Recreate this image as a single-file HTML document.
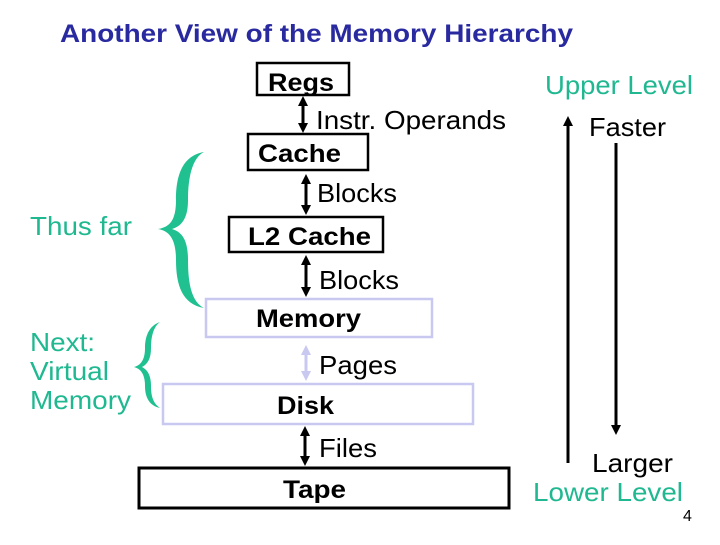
<!DOCTYPE html>
<html><head><meta charset="utf-8"><style>
html,body{margin:0;padding:0;background:#fff;}
body{width:720px;height:540px;overflow:hidden;}
svg text{font-family:"Liberation Sans",Arial,sans-serif;}
</style></head><body>
<svg width="720" height="540" viewBox="0 0 720 540" xmlns="http://www.w3.org/2000/svg">
<defs>
<marker id="ab" markerWidth="10" markerHeight="10" refX="2" refY="5" orient="auto-start-reverse" markerUnits="userSpaceOnUse"><path d="M0,0 L10,5 L0,10 Z" fill="#000"/></marker>
<marker id="al" markerWidth="10" markerHeight="10" refX="2" refY="5" orient="auto-start-reverse" markerUnits="userSpaceOnUse"><path d="M0,0 L10,5 L0,10 Z" fill="#c8c8f0"/></marker>
</defs>
<text x="60" y="42" font-size="25" font-weight="bold" fill="#2a2aa0" textLength="513" lengthAdjust="spacingAndGlyphs">Another View of the Memory Hierarchy</text>

<rect x="257" y="63" width="92" height="32" fill="none" stroke="#000" stroke-width="2.5"/>
<text x="268" y="91" font-size="25" font-weight="bold" textLength="66" lengthAdjust="spacingAndGlyphs">Regs</text>
<rect x="248" y="134" width="120" height="36" fill="none" stroke="#000" stroke-width="2.5"/>
<text x="258" y="162" font-size="25" font-weight="bold" textLength="83" lengthAdjust="spacingAndGlyphs">Cache</text>
<rect x="229" y="217" width="154" height="35" fill="none" stroke="#000" stroke-width="2.5"/>
<text x="248" y="245" font-size="25" font-weight="bold" textLength="123" lengthAdjust="spacingAndGlyphs">L2 Cache</text>
<rect x="206" y="299" width="226" height="38" fill="none" stroke="#c8c8f0" stroke-width="2.5"/>
<text x="256" y="327" font-size="25" font-weight="bold" textLength="105" lengthAdjust="spacingAndGlyphs">Memory</text>
<rect x="163" y="384" width="310" height="40" fill="none" stroke="#c8c8f0" stroke-width="2.5"/>
<text x="277" y="414" font-size="25" font-weight="bold" textLength="57" lengthAdjust="spacingAndGlyphs">Disk</text>
<rect x="139" y="468" width="370" height="40" fill="none" stroke="#000" stroke-width="3"/>
<text x="283" y="498" font-size="25" font-weight="bold" textLength="63" lengthAdjust="spacingAndGlyphs">Tape</text>

<line x1="303" y1="104" x2="303" y2="125" stroke="#000" stroke-width="3" marker-start="url(#ab)" marker-end="url(#ab)"/>
<line x1="306" y1="182" x2="306" y2="207" stroke="#000" stroke-width="3" marker-start="url(#ab)" marker-end="url(#ab)"/>
<line x1="306" y1="263" x2="306" y2="289" stroke="#000" stroke-width="3" marker-start="url(#ab)" marker-end="url(#ab)"/>
<line x1="306" y1="353" x2="306" y2="373" stroke="#c8c8f0" stroke-width="3" marker-start="url(#al)" marker-end="url(#al)"/>
<line x1="305" y1="434" x2="305" y2="458" stroke="#000" stroke-width="3" marker-start="url(#ab)" marker-end="url(#ab)"/>

<text x="316" y="129" font-size="26" textLength="190" lengthAdjust="spacingAndGlyphs">Instr. Operands</text>
<text x="317" y="202" font-size="26" textLength="80" lengthAdjust="spacingAndGlyphs">Blocks</text>
<text x="319" y="289" font-size="26" textLength="80" lengthAdjust="spacingAndGlyphs">Blocks</text>
<text x="319" y="374" font-size="26" textLength="78" lengthAdjust="spacingAndGlyphs">Pages</text>
<text x="319" y="457" font-size="26" textLength="58" lengthAdjust="spacingAndGlyphs">Files</text>

<path d="M204,152 C180,156 176,180 176,200 C176,220 170,227 158,229 C170,231 176,240 176,260 C176,285 182,304 204,308 C192,302 188,285 188,260 C188,240 182,232 172,229 C182,226 188,218 188,200 C188,178 192,158 204,152 Z" fill="#20c090"/>
<path d="M160,322 C148,326 145,338 145,348 C145,358 142,365 134,367 C142,369 145,376 145,386 C145,398 150,406 160,408 C153,403 151,396 151,386 C151,376 148,370 142,367 C148,364 151,358 151,348 C151,338 153,327 160,322 Z" fill="#20c090"/>

<text x="30" y="235" font-size="26" fill="#20b890" textLength="102" lengthAdjust="spacingAndGlyphs">Thus far</text>
<text x="30" y="351" font-size="26" fill="#20b890" textLength="65" lengthAdjust="spacingAndGlyphs">Next:</text>
<text x="30" y="380" font-size="26" fill="#20b890" textLength="79" lengthAdjust="spacingAndGlyphs">Virtual</text>
<text x="30" y="409" font-size="26" fill="#20b890" textLength="101" lengthAdjust="spacingAndGlyphs">Memory</text>

<text x="545" y="94" font-size="26" fill="#20b890" textLength="148" lengthAdjust="spacingAndGlyphs">Upper Level</text>
<text x="589" y="136" font-size="26" textLength="77" lengthAdjust="spacingAndGlyphs">Faster</text>
<text x="592" y="472" font-size="26" textLength="81" lengthAdjust="spacingAndGlyphs">Larger</text>
<text x="533" y="501" font-size="26" fill="#20b890" textLength="150" lengthAdjust="spacingAndGlyphs">Lower Level</text>
<text x="683" y="521" font-size="16">4</text>

<line x1="568" y1="463" x2="568" y2="124" stroke="#000" stroke-width="3" marker-end="url(#ab)"/>
<line x1="616" y1="143" x2="616" y2="427" stroke="#000" stroke-width="3" marker-end="url(#ab)"/>
</svg>
</body></html>
